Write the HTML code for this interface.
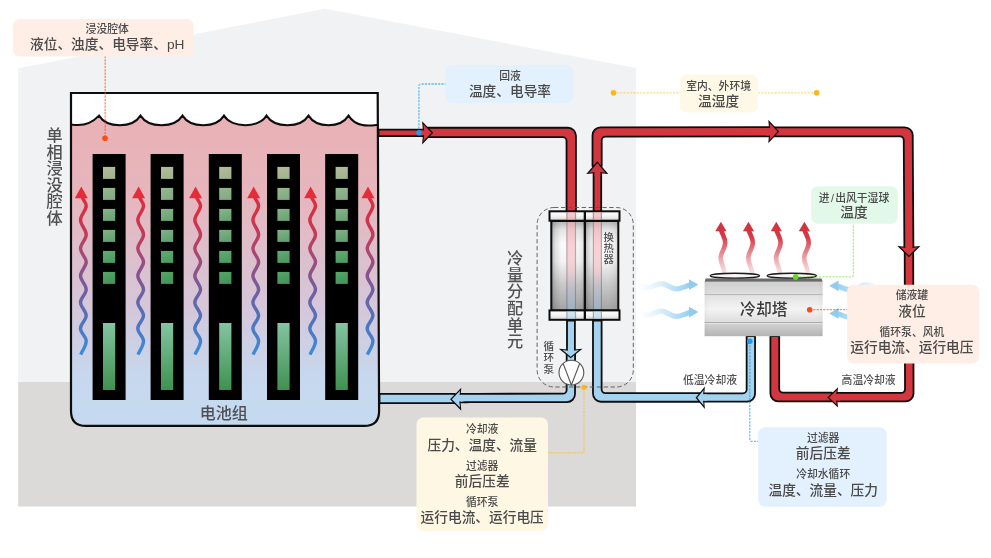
<!DOCTYPE html>
<html lang="zh-CN"><head><meta charset="utf-8"><title>单相浸没液冷系统监测示意图</title>
<style>
html,body{margin:0;padding:0;background:#fff;}
body{width:991px;height:558px;overflow:hidden;}
svg{display:block;font-family:"Liberation Sans","Noto Sans CJK SC",sans-serif;will-change:transform;}
text{font-weight:500;}
</style></head><body>
<svg width="991" height="558" viewBox="0 0 991 558">
<defs>
<linearGradient id="liq" x1="0" y1="0" x2="0" y2="1">
<stop offset="0" stop-color="#e9b1b5"/><stop offset="0.25" stop-color="#e6b6bd"/><stop offset="0.6" stop-color="#d6c6d8"/><stop offset="0.85" stop-color="#c6d8ee"/><stop offset="1" stop-color="#c4daf1"/>
</linearGradient>
<linearGradient id="wav" gradientUnits="userSpaceOnUse" x1="0" y1="186" x2="0" y2="356">
<stop offset="0" stop-color="#e02c3a"/><stop offset="0.2" stop-color="#d23248"/><stop offset="0.4" stop-color="#a84874"/><stop offset="0.58" stop-color="#785a9a"/><stop offset="0.78" stop-color="#5272ba"/><stop offset="1" stop-color="#3a8cdc"/>
</linearGradient>
<linearGradient id="bar" x1="0" y1="0" x2="0" y2="1">
<stop offset="0" stop-color="#84c4a2"/><stop offset="1" stop-color="#3f9150"/>
</linearGradient>
<linearGradient id="hxv" x1="0" y1="0" x2="0" y2="1">
<stop offset="0" stop-color="#b4b4b4"/><stop offset="0.1" stop-color="#e6e6e6"/><stop offset="0.25" stop-color="#fafafa"/><stop offset="0.45" stop-color="#f4f4f4"/><stop offset="0.7" stop-color="#cacaca"/><stop offset="1" stop-color="#a4a4a4"/>
</linearGradient>
<linearGradient id="hxh" x1="0" y1="0" x2="1" y2="0">
<stop offset="0" stop-color="#000" stop-opacity="0.28"/><stop offset="0.12" stop-color="#000" stop-opacity="0.1"/><stop offset="0.3" stop-color="#000" stop-opacity="0"/><stop offset="0.7" stop-color="#000" stop-opacity="0"/><stop offset="0.9" stop-color="#000" stop-opacity="0.05"/><stop offset="1" stop-color="#000" stop-opacity="0.14"/>
</linearGradient>
<linearGradient id="cap" x1="0" y1="0" x2="0" y2="1">
<stop offset="0" stop-color="#ffffff"/><stop offset="0.5" stop-color="#f4f4f4"/><stop offset="1" stop-color="#d4d4d4"/>
</linearGradient>
<linearGradient id="hxr" x1="0" y1="0" x2="0" y2="1">
<stop offset="0" stop-color="#f0a8b0" stop-opacity="0.6"/><stop offset="0.3" stop-color="#f6c4ca" stop-opacity="0.75"/><stop offset="0.55" stop-color="#f0c0c8" stop-opacity="0.6"/><stop offset="0.75" stop-color="#b8b8c8" stop-opacity="0.5"/><stop offset="1" stop-color="#98b8d8" stop-opacity="0.6"/>
</linearGradient>
<linearGradient id="ct" x1="0" y1="0" x2="0" y2="1">
<stop offset="0" stop-color="#cecece"/><stop offset="0.22" stop-color="#dedede"/><stop offset="0.25" stop-color="#e2e2e2"/><stop offset="0.5" stop-color="#f3f3f3"/><stop offset="0.73" stop-color="#dfdfdf"/><stop offset="0.76" stop-color="#d4d4d4"/><stop offset="1" stop-color="#b4b4b4"/>
</linearGradient>
<linearGradient id="cth" x1="0" y1="0" x2="1" y2="0">
<stop offset="0" stop-color="#000" stop-opacity="0.03"/><stop offset="0.04" stop-color="#000" stop-opacity="0"/><stop offset="0.96" stop-color="#000" stop-opacity="0"/><stop offset="1" stop-color="#000" stop-opacity="0.03"/>
</linearGradient>
<linearGradient id="hot" gradientUnits="userSpaceOnUse" x1="0" y1="228" x2="0" y2="275">
<stop offset="0" stop-color="#d4323f"/><stop offset="0.2" stop-color="#d63a47"/><stop offset="0.55" stop-color="#e0707a" stop-opacity="0.8"/><stop offset="1" stop-color="#f0b0b6" stop-opacity="0.35"/>
</linearGradient>
<linearGradient id="airL" gradientUnits="userSpaceOnUse" x1="639" y1="0" x2="692" y2="0">
<stop offset="0" stop-color="#a4d6f2" stop-opacity="0"/><stop offset="0.25" stop-color="#a4d6f2" stop-opacity="0.22"/><stop offset="0.6" stop-color="#9ad2f1" stop-opacity="0.6"/><stop offset="1" stop-color="#90cdf0" stop-opacity="1"/>
</linearGradient>
<linearGradient id="airR" gradientUnits="userSpaceOnUse" x1="888" y1="0" x2="835" y2="0">
<stop offset="0" stop-color="#a4d6f2" stop-opacity="0"/><stop offset="0.25" stop-color="#a4d6f2" stop-opacity="0.22"/><stop offset="0.6" stop-color="#9ad2f1" stop-opacity="0.6"/><stop offset="1" stop-color="#90cdf0" stop-opacity="1"/>
</linearGradient>

<linearGradient id="sq0" x1="0" y1="0" x2="0.3" y2="1"><stop offset="0" stop-color="#b4bc9c"/><stop offset="1" stop-color="#a2b48e"/></linearGradient>
<linearGradient id="sq1" x1="0" y1="0" x2="0.3" y2="1"><stop offset="0" stop-color="#98b690"/><stop offset="1" stop-color="#82ac82"/></linearGradient>
<linearGradient id="sq2" x1="0" y1="0" x2="0.3" y2="1"><stop offset="0" stop-color="#88b488"/><stop offset="1" stop-color="#6aa674"/></linearGradient>
<linearGradient id="sq3" x1="0" y1="0" x2="0.3" y2="1"><stop offset="0" stop-color="#80b288"/><stop offset="1" stop-color="#62a270"/></linearGradient>
<linearGradient id="sq4" x1="0" y1="0" x2="0.3" y2="1"><stop offset="0" stop-color="#62aa74"/><stop offset="1" stop-color="#4c9c60"/></linearGradient>
<linearGradient id="sq5" x1="0" y1="0" x2="0.3" y2="1"><stop offset="0" stop-color="#56a468"/><stop offset="1" stop-color="#44965a"/></linearGradient>
</defs>
<polygon points="18.2,68.2 325,8.8 636,68 636,506.4 18.2,506.4" fill="#f1f2f4"/>
<rect x="18.2" y="382" width="617.8" height="124.4" fill="#dbdad8"/>
<path d="M71.0 93.0 H377.7 L379.1 410.9 Q379.1 425.9 364.1 425.9 H86.0 Q71.0 425.9 71.0 410.9 Z" fill="#fff"/>
<path d="M71.0 124.4 Q88.0 127.5 99.0 115.6 C107.0 128.4 132.5 128.4 140.5 115.6 C148.5 128.4 174.5 128.4 182.5 115.6 C190.5 128.4 216.0 128.4 224.0 115.6 C232.0 128.4 258.5 128.4 266.5 115.6 C274.5 128.4 300.5 128.4 308.5 115.6 C316.5 128.4 340.5 128.4 348.5 115.6 C356.5 128.0 369.7 125.8 377.7 124.9  L379.1 410.9 Q379.1 425.9 364.1 425.9 H86.0 Q71.0 425.9 71.0 410.9 Z" fill="url(#liq)"/>
<path d="M71.0 124.4 Q88.0 127.5 99.0 115.6 C107.0 128.4 132.5 128.4 140.5 115.6 C148.5 128.4 174.5 128.4 182.5 115.6 C190.5 128.4 216.0 128.4 224.0 115.6 C232.0 128.4 258.5 128.4 266.5 115.6 C274.5 128.4 300.5 128.4 308.5 115.6 C316.5 128.4 340.5 128.4 348.5 115.6 C356.5 128.0 369.7 125.8 377.7 124.9 " fill="none" stroke="#0d0d0d" stroke-width="2"/>
<path d="M71.0 93.0 H377.7 L379.1 410.9 Q379.1 425.9 364.1 425.9 H86.0 Q71.0 425.9 71.0 410.9 Z" fill="none" stroke="#0d0d0d" stroke-width="2.2"/>
<rect x="92.6" y="154" width="33" height="246" fill="#000"/>
<rect x="103.0" y="166.9" width="12.2" height="12" fill="url(#sq0)"/>
<rect x="103.0" y="187.9" width="12.2" height="12" fill="url(#sq1)"/>
<rect x="103.0" y="208.9" width="12.2" height="12" fill="url(#sq2)"/>
<rect x="103.0" y="229.9" width="12.2" height="12" fill="url(#sq3)"/>
<rect x="103.0" y="250.9" width="12.2" height="12" fill="url(#sq4)"/>
<rect x="103.0" y="271.9" width="12.2" height="12" fill="url(#sq5)"/>
<rect x="103.0" y="323" width="12.2" height="67" fill="url(#bar)"/>
<rect x="150.6" y="154" width="33" height="246" fill="#000"/>
<rect x="161.0" y="166.9" width="12.2" height="12" fill="url(#sq0)"/>
<rect x="161.0" y="187.9" width="12.2" height="12" fill="url(#sq1)"/>
<rect x="161.0" y="208.9" width="12.2" height="12" fill="url(#sq2)"/>
<rect x="161.0" y="229.9" width="12.2" height="12" fill="url(#sq3)"/>
<rect x="161.0" y="250.9" width="12.2" height="12" fill="url(#sq4)"/>
<rect x="161.0" y="271.9" width="12.2" height="12" fill="url(#sq5)"/>
<rect x="161.0" y="323" width="12.2" height="67" fill="url(#bar)"/>
<rect x="208.8" y="154" width="33" height="246" fill="#000"/>
<rect x="219.2" y="166.9" width="12.2" height="12" fill="url(#sq0)"/>
<rect x="219.2" y="187.9" width="12.2" height="12" fill="url(#sq1)"/>
<rect x="219.2" y="208.9" width="12.2" height="12" fill="url(#sq2)"/>
<rect x="219.2" y="229.9" width="12.2" height="12" fill="url(#sq3)"/>
<rect x="219.2" y="250.9" width="12.2" height="12" fill="url(#sq4)"/>
<rect x="219.2" y="271.9" width="12.2" height="12" fill="url(#sq5)"/>
<rect x="219.2" y="323" width="12.2" height="67" fill="url(#bar)"/>
<rect x="267.0" y="154" width="33" height="246" fill="#000"/>
<rect x="277.4" y="166.9" width="12.2" height="12" fill="url(#sq0)"/>
<rect x="277.4" y="187.9" width="12.2" height="12" fill="url(#sq1)"/>
<rect x="277.4" y="208.9" width="12.2" height="12" fill="url(#sq2)"/>
<rect x="277.4" y="229.9" width="12.2" height="12" fill="url(#sq3)"/>
<rect x="277.4" y="250.9" width="12.2" height="12" fill="url(#sq4)"/>
<rect x="277.4" y="271.9" width="12.2" height="12" fill="url(#sq5)"/>
<rect x="277.4" y="323" width="12.2" height="67" fill="url(#bar)"/>
<rect x="325.2" y="154" width="33" height="246" fill="#000"/>
<rect x="335.6" y="166.9" width="12.2" height="12" fill="url(#sq0)"/>
<rect x="335.6" y="187.9" width="12.2" height="12" fill="url(#sq1)"/>
<rect x="335.6" y="208.9" width="12.2" height="12" fill="url(#sq2)"/>
<rect x="335.6" y="229.9" width="12.2" height="12" fill="url(#sq3)"/>
<rect x="335.6" y="250.9" width="12.2" height="12" fill="url(#sq4)"/>
<rect x="335.6" y="271.9" width="12.2" height="12" fill="url(#sq5)"/>
<rect x="335.6" y="323" width="12.2" height="67" fill="url(#bar)"/>
<path d="M82.2 196.5 C82.5 200 86.2 202 86.2 205.8 C86.2 211.0 80.5 214.6 80.5 219.8 C80.5 225.3 86.2 229.2 86.2 234.7 C86.2 239.8 80.5 243.5 80.5 248.6 C80.5 253.6 86.2 257.1 86.2 262.1 C86.2 267.2 80.5 270.7 80.5 275.8 C80.5 280.9 86.2 284.4 86.2 289.5 C86.2 294.3 80.5 297.6 80.5 302.4 C80.5 307.2 86.2 310.7 86.2 315.5 C86.2 320.3 80.5 323.6 80.5 328.4 C80.5 333.1 86.2 336.3 86.2 341.0 C86.2 346 82.9 349.5 80.7 354.6" fill="none" stroke="url(#wav)" stroke-width="3.4" stroke-linecap="butt" stroke-linejoin="round"/>
<polygon points="81.3,186.6 74.8,198.2 87.8,198.2" fill="#e52d3a"/>
<path d="M139.5 196.5 C139.8 200 143.5 202 143.5 205.8 C143.5 211.0 137.8 214.6 137.8 219.8 C137.8 225.3 143.5 229.2 143.5 234.7 C143.5 239.8 137.8 243.5 137.8 248.6 C137.8 253.6 143.5 257.1 143.5 262.1 C143.5 267.2 137.8 270.7 137.8 275.8 C137.8 280.9 143.5 284.4 143.5 289.5 C143.5 294.3 137.8 297.6 137.8 302.4 C137.8 307.2 143.5 310.7 143.5 315.5 C143.5 320.3 137.8 323.6 137.8 328.4 C137.8 333.1 143.5 336.3 143.5 341.0 C143.5 346 140.2 349.5 138.0 354.6" fill="none" stroke="url(#wav)" stroke-width="3.4" stroke-linecap="butt" stroke-linejoin="round"/>
<polygon points="138.6,186.6 132.1,198.2 145.1,198.2" fill="#e52d3a"/>
<path d="M196.5 196.5 C196.8 200 200.5 202 200.5 205.8 C200.5 211.0 194.8 214.6 194.8 219.8 C194.8 225.3 200.5 229.2 200.5 234.7 C200.5 239.8 194.8 243.5 194.8 248.6 C194.8 253.6 200.5 257.1 200.5 262.1 C200.5 267.2 194.8 270.7 194.8 275.8 C194.8 280.9 200.5 284.4 200.5 289.5 C200.5 294.3 194.8 297.6 194.8 302.4 C194.8 307.2 200.5 310.7 200.5 315.5 C200.5 320.3 194.8 323.6 194.8 328.4 C194.8 333.1 200.5 336.3 200.5 341.0 C200.5 346 197.2 349.5 195.0 354.6" fill="none" stroke="url(#wav)" stroke-width="3.4" stroke-linecap="butt" stroke-linejoin="round"/>
<polygon points="195.6,186.6 189.1,198.2 202.1,198.2" fill="#e52d3a"/>
<path d="M254.6 196.5 C254.9 200 258.6 202 258.6 205.8 C258.6 211.0 252.9 214.6 252.9 219.8 C252.9 225.3 258.6 229.2 258.6 234.7 C258.6 239.8 252.9 243.5 252.9 248.6 C252.9 253.6 258.6 257.1 258.6 262.1 C258.6 267.2 252.9 270.7 252.9 275.8 C252.9 280.9 258.6 284.4 258.6 289.5 C258.6 294.3 252.9 297.6 252.9 302.4 C252.9 307.2 258.6 310.7 258.6 315.5 C258.6 320.3 252.9 323.6 252.9 328.4 C252.9 333.1 258.6 336.3 258.6 341.0 C258.6 346 255.3 349.5 253.1 354.6" fill="none" stroke="url(#wav)" stroke-width="3.4" stroke-linecap="butt" stroke-linejoin="round"/>
<polygon points="253.7,186.6 247.2,198.2 260.2,198.2" fill="#e52d3a"/>
<path d="M311.5 196.5 C311.8 200 315.5 202 315.5 205.8 C315.5 211.0 309.8 214.6 309.8 219.8 C309.8 225.3 315.5 229.2 315.5 234.7 C315.5 239.8 309.8 243.5 309.8 248.6 C309.8 253.6 315.5 257.1 315.5 262.1 C315.5 267.2 309.8 270.7 309.8 275.8 C309.8 280.9 315.5 284.4 315.5 289.5 C315.5 294.3 309.8 297.6 309.8 302.4 C309.8 307.2 315.5 310.7 315.5 315.5 C315.5 320.3 309.8 323.6 309.8 328.4 C309.8 333.1 315.5 336.3 315.5 341.0 C315.5 346 312.2 349.5 310.0 354.6" fill="none" stroke="url(#wav)" stroke-width="3.4" stroke-linecap="butt" stroke-linejoin="round"/>
<polygon points="310.6,186.6 304.1,198.2 317.1,198.2" fill="#e52d3a"/>
<path d="M368.9 196.5 C369.2 200 372.9 202 372.9 205.8 C372.9 211.0 367.2 214.6 367.2 219.8 C367.2 225.3 372.9 229.2 372.9 234.7 C372.9 239.8 367.2 243.5 367.2 248.6 C367.2 253.6 372.9 257.1 372.9 262.1 C372.9 267.2 367.2 270.7 367.2 275.8 C367.2 280.9 372.9 284.4 372.9 289.5 C372.9 294.3 367.2 297.6 367.2 302.4 C367.2 307.2 372.9 310.7 372.9 315.5 C372.9 320.3 367.2 323.6 367.2 328.4 C367.2 333.1 372.9 336.3 372.9 341.0 C372.9 346 369.6 349.5 367.4 354.6" fill="none" stroke="url(#wav)" stroke-width="3.4" stroke-linecap="butt" stroke-linejoin="round"/>
<polygon points="368.0,186.6 361.5,198.2 374.5,198.2" fill="#e52d3a"/>
<text x="54.5" y="141.0" font-size="16.2" text-anchor="middle" fill="#525252">单</text>
<text x="54.5" y="157.6" font-size="16.2" text-anchor="middle" fill="#525252">相</text>
<text x="54.5" y="174.2" font-size="16.2" text-anchor="middle" fill="#525252">浸</text>
<text x="54.5" y="190.8" font-size="16.2" text-anchor="middle" fill="#525252">没</text>
<text x="54.5" y="207.4" font-size="16.2" text-anchor="middle" fill="#525252">腔</text>
<text x="54.5" y="224.0" font-size="16.2" text-anchor="middle" fill="#525252">体</text>
<text x="223.8" y="418.6" font-size="16" text-anchor="middle" fill="#505050">电池组</text>
<path d="M378.50 129.60 L424.00 129.60 L424.00 136.10 L378.50 136.10 Z" fill="#d4363f" stroke="#0d0d0d" stroke-width="1.80" stroke-linejoin="round"/>
<path d="M428.00 127.75 L567.95 127.75 C572.37 127.75 575.95 131.33 575.95 135.75 L575.95 212.00 L566.55 212.00 L566.55 140.95 C566.55 138.85 564.85 137.15 562.75 137.15 L428.00 137.15 Z" fill="#d4363f" stroke="#0d0d0d" stroke-width="1.80" stroke-linejoin="round"/>
<path d="M593.60 212.00 L593.60 172.60 L601.20 172.60 L601.20 212.00 Z" fill="#d4363f" stroke="#0d0d0d" stroke-width="1.80" stroke-linejoin="round"/>
<path d="M592.50 166.00 L592.50 135.41 C592.50 130.99 596.08 127.40 600.50 127.40 L769.99 127.20 L770.01 136.40 L605.50 136.59 C603.40 136.59 601.70 138.30 601.70 140.39 L601.70 166.00 Z" fill="#d4363f" stroke="#0d0d0d" stroke-width="1.80" stroke-linejoin="round"/>
<path d="M774.00 127.30 L904.67 127.30 C909.09 127.30 912.69 130.88 912.72 135.30 L913.40 247.97 L904.40 248.03 L903.75 140.10 C903.74 138.00 902.03 136.30 899.93 136.30 L774.00 136.30 Z" fill="#d4363f" stroke="#0d0d0d" stroke-width="1.80" stroke-linejoin="round"/>
<path d="M913.20 251.99 L913.54 393.45 C913.55 397.87 909.98 401.45 905.56 401.45 L836.50 401.45 L836.50 392.95 L901.24 392.95 C903.34 392.95 905.04 391.25 905.03 389.15 L904.70 252.01 Z" fill="#d4363f" stroke="#0d0d0d" stroke-width="1.80" stroke-linejoin="round"/>
<path d="M832.00 401.45 L778.40 401.45 C773.98 401.45 770.40 397.87 770.40 393.45 L770.40 336.00 L779.20 336.00 L779.20 388.85 C779.20 390.95 780.90 392.65 783.00 392.65 L832.00 392.65 Z" fill="#d4363f" stroke="#0d0d0d" stroke-width="1.80" stroke-linejoin="round"/>
<path d="M755.05 336.00 L755.05 393.70 C755.05 398.12 751.47 401.70 747.05 401.70 L703.50 401.70 L703.50 393.30 L742.85 393.30 C744.95 393.30 746.65 391.60 746.65 389.50 L746.65 336.00 Z" fill="#a4d3f0" stroke="#0d0d0d" stroke-width="1.80" stroke-linejoin="round"/>
<path d="M700.00 401.75 L601.00 401.75 C596.58 401.75 593.00 398.17 593.00 393.75 L593.00 320.50 L601.60 320.50 L601.60 389.35 C601.60 391.45 603.30 393.15 605.40 393.15 L700.00 393.15 Z" fill="#a4d3f0" stroke="#0d0d0d" stroke-width="1.80" stroke-linejoin="round"/>
<path d="M574.90 320.50 L574.90 350.00 L567.00 350.00 L567.00 320.50 Z" fill="#a4d3f0" stroke="#0d0d0d" stroke-width="1.80" stroke-linejoin="round"/>
<path d="M575.10 354.01 L575.01 394.10 C575.00 398.51 571.41 402.10 566.99 402.10 L473.84 402.20 C471.74 402.20 468.34 402.23 466.24 402.27 L459.88 402.40 L459.72 394.00 L461.96 393.96 C466.38 393.87 473.54 393.80 477.96 393.79 L562.81 393.71 C564.91 393.71 566.61 392.00 566.62 389.90 L566.70 353.99 Z" fill="#a4d3f0" stroke="#0d0d0d" stroke-width="1.80" stroke-linejoin="round"/>
<path d="M455.00 403.05 L379.50 403.00 L379.50 393.90 L455.00 393.95 Z" fill="#a4d3f0" stroke="#0d0d0d" stroke-width="1.80" stroke-linejoin="round"/>
<polygon points="433.20,132.80 422.10,121.20 423.10,132.80 422.10,144.40" fill="#0d0d0d"/>
<polygon points="431.47,132.80 423.35,124.31 424.35,132.80 423.35,141.29" fill="#d4363f"/>
<path d="M420.10 132.85 L425.10 132.85" fill="none" stroke="#d4363f" stroke-width="4.70"/>
<polygon points="597.30,161.30 586.30,174.10 597.30,173.10 608.30,174.10" fill="#0d0d0d"/>
<polygon points="597.30,163.22 589.02,172.85 597.30,171.85 605.58,172.85" fill="#d4363f"/>
<path d="M597.40 176.10 L597.40 171.10" fill="none" stroke="#d4363f" stroke-width="5.80"/>
<polygon points="779.20,131.60 768.30,119.85 769.30,131.60 768.30,143.35" fill="#0d0d0d"/>
<polygon points="777.49,131.60 769.55,123.04 770.55,131.60 769.55,140.16" fill="#d4363f"/>
<path d="M766.30 131.80 L771.30 131.80" fill="none" stroke="#d4363f" stroke-width="7.40"/>
<polygon points="908.90,257.20 920.50,246.00 908.90,247.00 897.30,246.00" fill="#0d0d0d"/>
<polygon points="908.90,255.46 917.41,247.25 908.90,248.25 900.39,247.25" fill="#d4363f"/>
<path d="M908.90 244.00 L908.90 249.00" fill="none" stroke="#d4363f" stroke-width="6.80"/>
<polygon points="827.30,397.40 838.00,407.60 837.00,397.40 838.00,387.20" fill="#0d0d0d"/>
<polygon points="829.11,397.40 836.75,404.68 835.75,397.40 836.75,390.12" fill="#d4363f"/>
<path d="M840.00 397.20 L835.00 397.20" fill="none" stroke="#d4363f" stroke-width="6.70"/>
<polygon points="695.60,397.70 704.90,408.95 703.90,397.70 704.90,386.45" fill="#0d0d0d"/>
<polygon points="697.22,397.70 703.65,405.48 702.65,397.70 703.65,389.92" fill="#a4d3f0"/>
<path d="M706.90 397.50 L701.90 397.50" fill="none" stroke="#a4d3f0" stroke-width="6.60"/>
<polygon points="570.70,358.30 582.50,348.70 570.70,349.70 558.90,348.70" fill="#0d0d0d"/>
<polygon points="570.70,356.69 578.98,349.95 570.70,350.95 562.42,349.95" fill="#a4d3f0"/>
<path d="M570.95 346.70 L570.95 351.70" fill="none" stroke="#a4d3f0" stroke-width="6.10"/>
<polygon points="450.10,399.20 461.30,410.70 460.30,399.20 461.30,387.70" fill="#0d0d0d"/>
<polygon points="451.84,399.20 460.05,407.62 459.05,399.20 460.05,390.78" fill="#a4d3f0"/>
<path d="M463.30 398.20 L458.30 398.20" fill="none" stroke="#a4d3f0" stroke-width="6.60"/>
<rect x="537.1" y="207.5" width="96.2" height="179.5" rx="17" fill="none" stroke="#555" stroke-width="0.9" stroke-dasharray="4.3 2.6"/>
<circle cx="571.4" cy="372.6" r="12.4" fill="#fff" stroke="#555" stroke-width="1.1"/>
<path d="M563.2 363.8 L571.4 385 L579.6 363.8" fill="none" stroke="#555" stroke-width="1.1"/>
<rect x="551.2" y="221" width="67" height="89.5" fill="url(#hxv)"/>
<rect x="551.2" y="221" width="33.6" height="89.5" fill="url(#hxh)"/>
<rect x="585" y="221" width="33.4" height="89.5" fill="url(#hxh)"/>
<rect x="566.3" y="221" width="9.8" height="89.5" fill="url(#hxr)"/>
<rect x="566.3" y="221" width="1.2" height="89.5" fill="#000" opacity="0.22"/>
<rect x="574.9" y="221" width="1.2" height="89.5" fill="#000" opacity="0.22"/>
<rect x="592.8" y="221" width="9.2" height="89.5" fill="url(#hxr)"/>
<rect x="592.8" y="221" width="1.2" height="89.5" fill="#000" opacity="0.22"/>
<rect x="600.8" y="221" width="1.2" height="89.5" fill="#000" opacity="0.22"/>
<rect x="551.3" y="221" width="67" height="89.5" fill="none" stroke="#0d0d0d" stroke-width="2"/>
<rect x="549.5" y="211.3" width="70" height="9.4" fill="url(#cap)" stroke="#0d0d0d" stroke-width="2"/>
<rect x="566.3" y="212.3" width="9.8" height="7.4" fill="#ee9aa2" opacity="0.5"/>
<rect x="566.3" y="212.3" width="1.2" height="7.4" fill="#000" opacity="0.25"/>
<rect x="574.9" y="212.3" width="1.2" height="7.4" fill="#000" opacity="0.25"/>
<rect x="592.8" y="212.3" width="9.2" height="7.4" fill="#ee9aa2" opacity="0.5"/>
<rect x="592.8" y="212.3" width="1.2" height="7.4" fill="#000" opacity="0.25"/>
<rect x="600.8" y="212.3" width="1.2" height="7.4" fill="#000" opacity="0.25"/>
<rect x="549.5" y="310.4" width="70" height="9.4" fill="url(#cap)" stroke="#0d0d0d" stroke-width="2"/>
<rect x="566.3" y="311.4" width="9.8" height="7.4" fill="#a4d3f0" opacity="0.5"/>
<rect x="566.3" y="311.4" width="1.2" height="7.4" fill="#000" opacity="0.25"/>
<rect x="574.9" y="311.4" width="1.2" height="7.4" fill="#000" opacity="0.25"/>
<rect x="592.8" y="311.4" width="9.2" height="7.4" fill="#a4d3f0" opacity="0.5"/>
<rect x="592.8" y="311.4" width="1.2" height="7.4" fill="#000" opacity="0.25"/>
<rect x="600.8" y="311.4" width="1.2" height="7.4" fill="#000" opacity="0.25"/>
<rect x="583.7" y="211.3" width="2.3" height="108.5" fill="#0d0d0d"/>
<text x="608.6" y="240.6" font-size="10.4" text-anchor="middle" fill="#505050">换</text>
<text x="608.6" y="251.9" font-size="10.4" text-anchor="middle" fill="#505050">热</text>
<text x="608.6" y="263.2" font-size="10.4" text-anchor="middle" fill="#505050">器</text>
<text x="515.0" y="264.2" font-size="16.2" text-anchor="middle" fill="#525252">冷</text>
<text x="515.0" y="280.8" font-size="16.2" text-anchor="middle" fill="#525252">量</text>
<text x="515.0" y="297.4" font-size="16.2" text-anchor="middle" fill="#525252">分</text>
<text x="515.0" y="314.0" font-size="16.2" text-anchor="middle" fill="#525252">配</text>
<text x="515.0" y="330.6" font-size="16.2" text-anchor="middle" fill="#525252">单</text>
<text x="515.0" y="347.2" font-size="16.2" text-anchor="middle" fill="#525252">元</text>
<text x="548.8" y="350.0" font-size="10.6" text-anchor="middle" fill="#505050">循</text>
<text x="548.8" y="361.4" font-size="10.6" text-anchor="middle" fill="#505050">环</text>
<text x="548.8" y="372.8" font-size="10.6" text-anchor="middle" fill="#505050">泵</text>
<path d="M639.9 285.2 C641.2 285.6 644.1 288.0 647.7 287.7 C651.3 287.4 657.0 283.4 661.7 283.6 C666.4 283.8 671.1 288.7 675.7 288.9 C680.3 289.1 687.1 285.6 689.4 285.0" fill="none" stroke="url(#airL)" stroke-width="5.2" stroke-linejoin="round"/>
<polygon points="698.4,284.6 689.0,279.2 689.0,290.0" fill="#8fcdf0"/>
<path d="M639.9 312.7 C641.2 313.1 644.1 315.5 647.7 315.2 C651.3 314.9 657.0 310.9 661.7 311.1 C666.4 311.3 671.1 316.2 675.7 316.4 C680.3 316.6 687.1 313.1 689.4 312.5" fill="none" stroke="url(#airL)" stroke-width="5.2" stroke-linejoin="round"/>
<polygon points="698.4,312.1 689.0,306.7 689.0,317.5" fill="#8fcdf0"/>
<path d="M887.7 286.4 C886.4 286.8 883.5 289.2 879.9 288.9 C876.3 288.6 870.6 284.6 865.9 284.8 C861.2 285.0 856.5 289.9 851.9 290.1 C847.3 290.3 840.5 286.9 838.2 286.2" fill="none" stroke="url(#airR)" stroke-width="5.2" stroke-linejoin="round"/>
<polygon points="829.2,285.8 838.6,280.4 838.6,291.2" fill="#8fcdf0"/>
<path d="M887.7 314.0 C886.4 314.4 883.5 316.8 879.9 316.5 C876.3 316.2 870.6 312.2 865.9 312.4 C861.2 312.6 856.5 317.5 851.9 317.7 C847.3 317.9 840.5 314.4 838.2 313.8" fill="none" stroke="url(#airR)" stroke-width="5.2" stroke-linejoin="round"/>
<polygon points="829.2,313.4 838.6,308.0 838.6,318.8" fill="#8fcdf0"/>
<path d="M721.2 230.5 C722.5 235 725.5 238 725.2 243.5 C724.9 249 720.7 252.5 720.7 258 C720.7 263.5 724.1 267 724.5 274" fill="none" stroke="url(#hot)" stroke-width="4.6"/>
<polygon points="720.9,221.8 715.3,231.2 726.5,231.2" fill="#d4323f"/>
<path d="M748.8 230.5 C750.1 235 753.1 238 752.8 243.5 C752.5 249 748.3 252.5 748.3 258 C748.3 263.5 751.7 267 752.1 274" fill="none" stroke="url(#hot)" stroke-width="4.6"/>
<polygon points="748.5,221.8 742.9,231.2 754.1,231.2" fill="#d4323f"/>
<path d="M776.6 230.5 C777.9 235 780.9 238 780.6 243.5 C780.3 249 776.1 252.5 776.1 258 C776.1 263.5 779.5 267 779.9 274" fill="none" stroke="url(#hot)" stroke-width="4.6"/>
<polygon points="776.3,221.8 770.7,231.2 781.9,231.2" fill="#d4323f"/>
<path d="M804.7 230.5 C806.0 235 809.0 238 808.7 243.5 C808.4 249 804.2 252.5 804.2 258 C804.2 263.5 807.6 267 808.0 274" fill="none" stroke="url(#hot)" stroke-width="4.6"/>
<polygon points="804.4,221.8 798.8,231.2 810.0,231.2" fill="#d4323f"/>
<ellipse cx="734.9" cy="275.8" rx="24.6" ry="2.5" fill="#f6f6f6" stroke="#1c1c1c" stroke-width="1.4"/>
<ellipse cx="791.8" cy="275.8" rx="24.6" ry="2.5" fill="#f6f6f6" stroke="#1c1c1c" stroke-width="1.4"/>
<polygon points="705.6,278.4 821.6,278.4 822.6,282 704.6,282" fill="#6a6a6a"/>
<rect x="704.6" y="281.6" width="118" height="54.6" fill="url(#ct)"/>
<rect x="704.6" y="281.6" width="118" height="54.6" fill="url(#cth)"/>
<rect x="704.6" y="295.2" width="118" height="0.6" fill="#f4f4f4"/>
<rect x="704.6" y="294.3" width="118" height="0.9" fill="#a4aaa6"/>
<rect x="704.6" y="322.9" width="118" height="0.6" fill="#f4f4f4"/>
<rect x="704.6" y="322" width="118" height="0.9" fill="#a4aaa6"/>
<text x="763.8" y="314.8" font-size="15.8" text-anchor="middle" fill="#3a3a3a">冷却塔</text>
<text x="710" y="383.5" font-size="10.8" text-anchor="middle" fill="#505050">低温冷却液</text>
<text x="868.6" y="383.5" font-size="10.8" text-anchor="middle" fill="#505050">高温冷却液</text>
<path d="M105.2 56 V137" fill="none" stroke="#fb4c12" stroke-width="1.3" stroke-opacity="0.65" stroke-dasharray="2.2 1.1" stroke-linejoin="round"/>
<circle cx="105.0" cy="138.3" r="2.8" fill="#fb4c12"/>
<path d="M418.9 132 V86 Q418.9 84 420.9 84 H446" fill="none" stroke="#1e9af0" stroke-width="1.3" stroke-opacity="0.65" stroke-dasharray="2.2 1.1" stroke-linejoin="round"/>
<circle cx="419.0" cy="132.8" r="2.8" fill="#1e9af0"/>
<path d="M613.5 92.8 H680" fill="none" stroke="#fdb714" stroke-width="1.3" stroke-opacity="0.50" stroke-dasharray="2.2 1.1" stroke-linejoin="round"/>
<path d="M758 92.8 H816.5" fill="none" stroke="#fdb714" stroke-width="1.3" stroke-opacity="0.50" stroke-dasharray="2.2 1.1" stroke-linejoin="round"/>
<circle cx="613.5" cy="92.8" r="2.8" fill="#fdb714"/>
<circle cx="816.7" cy="92.8" r="2.8" fill="#fdb714"/>
<path d="M796 276.9 H851.6 Q853.4 276.9 853.4 275.1 V224" fill="none" stroke="#62dc1e" stroke-width="1.3" stroke-opacity="0.50" stroke-dasharray="2.2 1.1" stroke-linejoin="round"/>
<circle cx="795.7" cy="276.9" r="2.8" fill="#62dc1e"/>
<path d="M810 309.6 H848" fill="none" stroke="#fb4c12" stroke-width="1.3" stroke-opacity="0.65" stroke-dasharray="2.2 1.1" stroke-linejoin="round"/>
<circle cx="809.7" cy="309.8" r="2.8" fill="#fb4c12"/>
<path d="M749.8 342 V439.5 Q749.8 441.3 751.6 441.3 H758.2" fill="none" stroke="#1e9af0" stroke-width="1.3" stroke-opacity="0.65" stroke-dasharray="2.2 1.1" stroke-linejoin="round"/>
<circle cx="749.8" cy="341.3" r="2.8" fill="#1e9af0"/>
<path d="M584 388 V452.6 H548" fill="none" stroke="#fdb714" stroke-width="1.3" stroke-opacity="0.50" stroke-dasharray="2.2 1.1" stroke-linejoin="round"/>
<circle cx="584.0" cy="387.3" r="2.6" fill="#fdb714"/>
<rect x="12.8" y="19.0" width="180.8" height="37.4" rx="7" fill="#feeee5"/>
<text x="107.2" y="32.8" font-size="10.8" text-anchor="middle" fill="#4a4a4a">浸没腔体</text>
<text x="107.2" y="49.0" font-size="13.7" text-anchor="middle" fill="#4a4a4a">液位、浊度、电导率、pH</text>
<rect x="445.4" y="65.0" width="128.0" height="38.0" rx="7" fill="#e3f0fd"/>
<text x="510.0" y="80.0" font-size="10.8" text-anchor="middle" fill="#4a4a4a">回液</text>
<text x="510.0" y="96.2" font-size="13.7" text-anchor="middle" fill="#4a4a4a">温度、电导率</text>
<rect x="679.9" y="74.4" width="78.0" height="38.2" rx="7" fill="#fef8e6"/>
<text x="718.6" y="89.8" font-size="10.8" text-anchor="middle" fill="#4a4a4a">室内、外环境</text>
<text x="718.6" y="105.8" font-size="13.7" text-anchor="middle" fill="#4a4a4a">温湿度</text>
<rect x="811.1" y="186.2" width="86.8" height="37.6" rx="7" fill="#e2f9ea"/>
<text x="854.0" y="201.5" font-size="10.8" text-anchor="middle" fill="#4a4a4a">进<tspan dx="1.3">/</tspan><tspan dx="1.3">出风干湿球</tspan></text>
<text x="854.0" y="217.2" font-size="13.7" text-anchor="middle" fill="#4a4a4a">温度</text>
<rect x="847.1" y="284.8" width="132.0" height="78.8" rx="7" fill="#feeee5"/>
<text x="911.9" y="299.4" font-size="10.8" text-anchor="middle" fill="#4a4a4a">储液罐</text>
<text x="911.9" y="315.6" font-size="13.7" text-anchor="middle" fill="#4a4a4a">液位</text>
<text x="911.9" y="335.8" font-size="10.8" text-anchor="middle" fill="#4a4a4a">循环泵、风机</text>
<text x="911.9" y="352.0" font-size="13.7" text-anchor="middle" fill="#4a4a4a">运行电流、运行电压</text>
<rect x="758.2" y="427.3" width="128.4" height="79.4" rx="7" fill="#e3f0fd"/>
<text x="823.2" y="441.8" font-size="10.8" text-anchor="middle" fill="#4a4a4a">过滤器</text>
<text x="823.2" y="458.2" font-size="13.7" text-anchor="middle" fill="#4a4a4a">前后压差</text>
<text x="823.2" y="478.2" font-size="10.8" text-anchor="middle" fill="#4a4a4a">冷却水循环</text>
<text x="823.2" y="494.6" font-size="13.7" text-anchor="middle" fill="#4a4a4a">温度、流量、压力</text>
<rect x="416.5" y="417.4" width="131.5" height="113.6" rx="7" fill="#fef7e3"/>
<text x="482.2" y="433.4" font-size="10.8" text-anchor="middle" fill="#4a4a4a">冷却液</text>
<text x="482.2" y="449.8" font-size="13.7" text-anchor="middle" fill="#4a4a4a">压力、温度、流量</text>
<text x="482.2" y="470.2" font-size="10.8" text-anchor="middle" fill="#4a4a4a">过滤器</text>
<text x="482.2" y="486.0" font-size="13.7" text-anchor="middle" fill="#4a4a4a">前后压差</text>
<text x="482.2" y="506.2" font-size="10.8" text-anchor="middle" fill="#4a4a4a">循环泵</text>
<text x="482.2" y="522.4" font-size="13.7" text-anchor="middle" fill="#4a4a4a">运行电流、运行电压</text>
</svg></body></html>
